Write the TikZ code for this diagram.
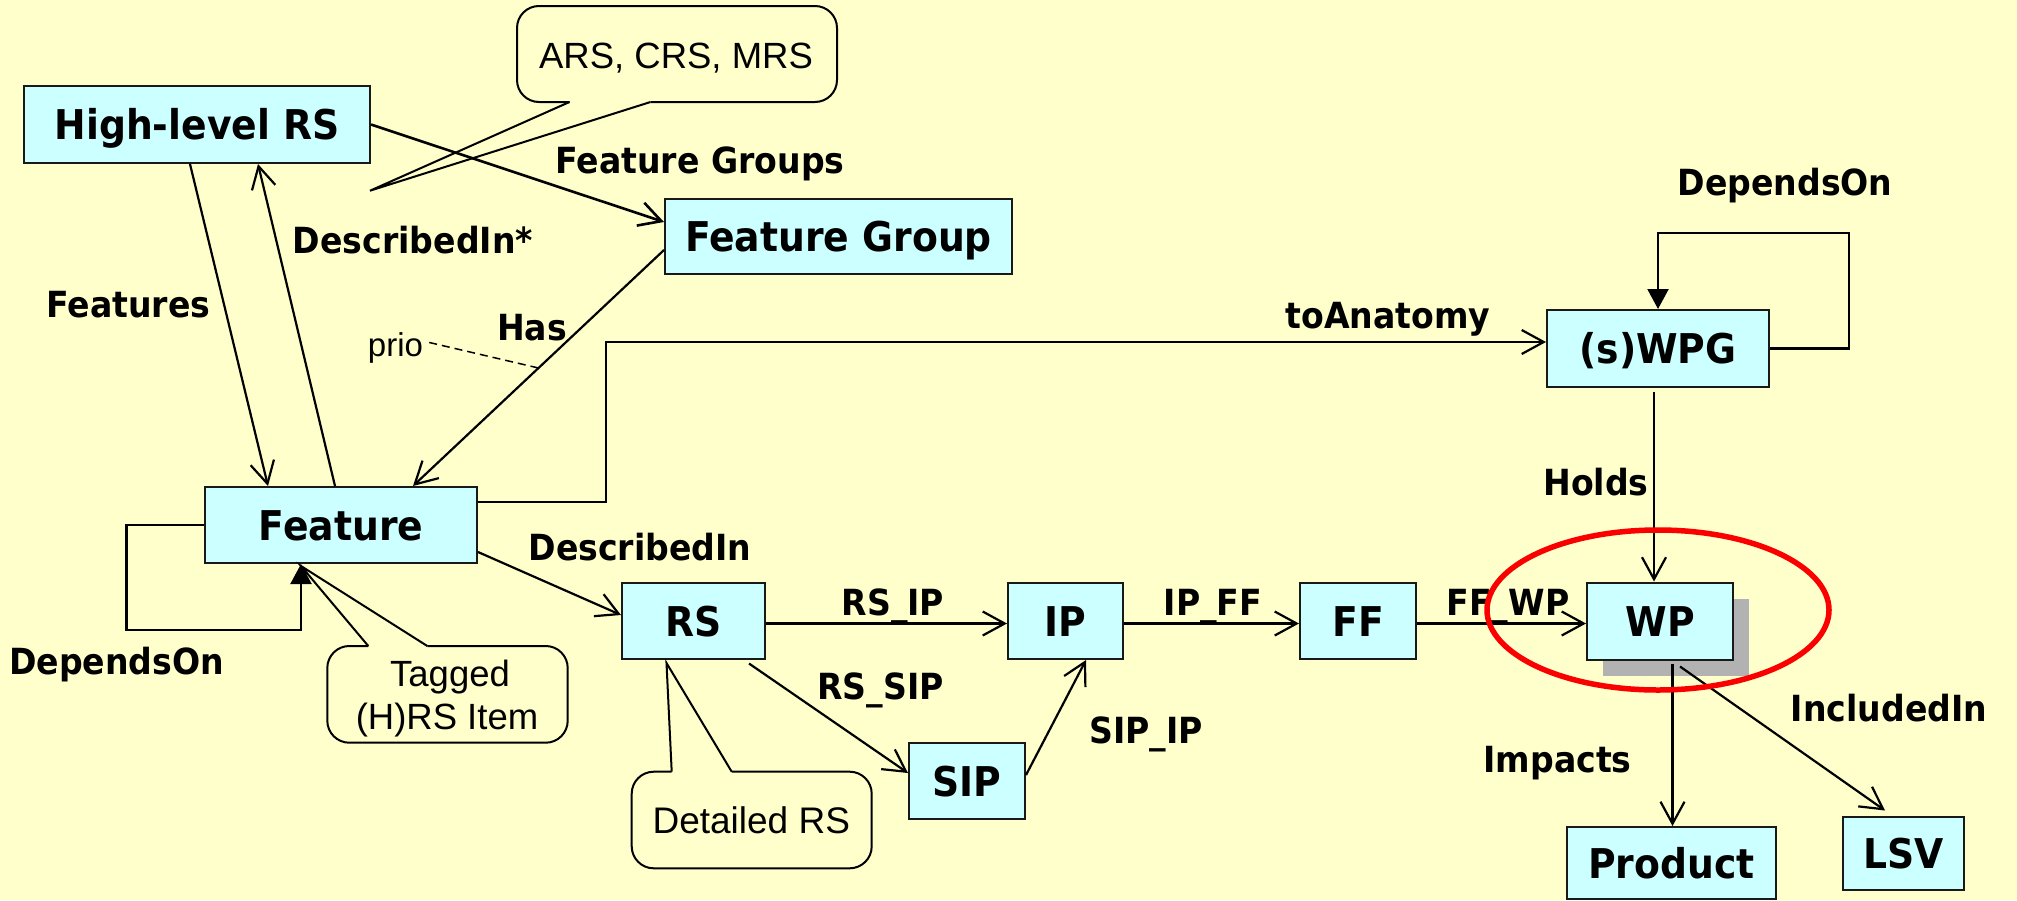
\documentclass[tikz,border=0pt]{standalone}
\usepackage{fontspec}
\setmainfont{Liberation Sans}
\newfontfamily\tahoma[FakeStretch=0.92]{DejaVu Sans}
\usetikzlibrary{arrows.meta,calc,shadows}
\definecolor{paper}{RGB}{255,255,204}
\definecolor{boxfill}{RGB}{204,255,255}
\definecolor{shade}{RGB}{178,178,178}
\definecolor{ring}{RGB}{250,0,0}

\begin{document}
\begin{tikzpicture}[x=1pt,y=-1pt,
  entity/.style={draw=black!90, line width=2pt, fill=boxfill, inner sep=0pt,
    text height=30pt, text depth=0pt,
    font=\tahoma\bfseries\fontsize{41}{48}\selectfont},
  rel/.style={font=\tahoma\bfseries\fontsize{36}{42}\selectfont, anchor=base, inner sep=0pt},
  note/.style={font=\fontsize{36.5}{42}\selectfont, anchor=base, inner sep=0pt},
  link/.style={line width=2.2pt},
  arr/.style={link, -{Straight Barb[length=22pt,width=24pt]}},
  selfarr/.style={link, -{Triangle[length=20pt,width=21pt]}},
  bubble/.style={line width=2pt, rounded corners=22pt},
]
% canvas
\fill[paper] (0,0) rectangle (2017,900);
\useasboundingbox (0,0) rectangle (2017,900);

% entities
\node[entity, minimum width=346pt, minimum height=77pt] (hl) at (197,124.5) {High-level RS};
\node[entity, minimum width=347pt, minimum height=75pt] (fg) at (838.5,236.5) {Feature Group};
\node[entity, minimum width=222pt, minimum height=77pt] (wpg) at (1658,348.5) {(s)WPG};
\node[entity, minimum width=272pt, minimum height=76pt] (feat) at (341,525) {Feature};
\node[entity, minimum width=143pt, minimum height=76pt] (rs) at (693.5,621) {RS};
\node[entity, minimum width=115pt, minimum height=76pt] (ip) at (1065.5,621) {IP};
\node[entity, minimum width=116pt, minimum height=76pt] (ff) at (1358,621) {FF};
\node[entity, minimum width=146pt, minimum height=77pt,
  drop shadow={shadow xshift=16pt, shadow yshift=-16pt, fill=shade, opacity=1, draw=none}]
  (wp) at (1660,621) {WP};
\node[entity, minimum width=116pt, minimum height=76pt] (sip) at (967,781) {SIP};
\node[entity, minimum width=209pt, minimum height=72pt] (prod) at (1671.5,863) {Product};
\node[entity, minimum width=121pt, minimum height=73pt] (lsv) at (1903.5,853) {LSV};

% callout: ARS, CRS, MRS
\node[note] (ars) at (676,68) {ARS, CRS, MRS};
\coordinate (arstip) at (370,190.7);
\draw[bubble] (650.5,102) -- (837,102) -- (837,6) -- (517,6) -- (517,102) -- (569.5,102);
\draw[link, line width=2pt] (569.5,102) -- (arstip) -- (650.5,102);

% callout: Tagged (H)RS Item
\node[note] (tag1) at (450,686) {Tagged};
\node[note] (tag2) at (447,729) {(H)RS Item};
\draw[bubble] (427.3,646) -- (567.7,646) -- (567.7,742.7) -- (327.3,742.7) -- (327.3,646) -- (368.3,646);
\draw[link, line width=2pt] (368.3,646) -- ([xshift=-40pt,yshift=-2pt]feat.south) -- (427.3,646);

% callout: Detailed RS
\node[note, font=\fontsize{37}{42}\selectfont] (det) at (751.3,833.3) {Detailed RS};
\draw[bubble] (731.7,771.7) -- (871.7,771.7) -- (871.7,868.3) -- (631.7,868.3) -- (631.7,771.7) -- (671.7,771.7);
\draw[link, line width=2pt] (671.7,771.7) -- ([xshift=-27pt,yshift=-3pt]rs.south) -- (731.7,771.7);

% relations
\draw[arr, line width=2.6pt] (hl.east) -- ([yshift=14.5pt]fg.west);
\draw[arr] ([xshift=-7pt]hl.south) -- ([xshift=-73pt]feat.north);
\draw[arr] ([xshift=-6pt]feat.north) -- ([xshift=61pt]hl.south);
\draw[arr] ([yshift=-13.5pt]fg.west) -- coordinate[pos=0.5] (hasmid) ([xshift=72pt]feat.north);
\draw[arr] ([yshift=23pt]feat.east) -- ++(128,0) |- ([yshift=6.5pt]wpg.west);
\draw[selfarr] (wpg.east) -- ++(79,0) |- ([yshift=76pt]wpg.north) -- (wpg.north);
\draw[selfarr] (feat.west) -- ++(-77.5,0) |- ([xshift=-40pt,yshift=-66pt]feat.south) -- ([xshift=-40pt]feat.south);
\draw[arr] ([yshift=-27pt]feat.east) -- ([yshift=6pt]rs.west);
\draw[arr] ([yshift=-2.5pt]rs.east) -- ([yshift=-2.5pt]ip.west);
\draw[arr] ([xshift=55.5pt,yshift=-3.5pt]rs.south) -- ([yshift=8pt]sip.west);
\draw[arr] ([yshift=6pt]sip.east) -- ([xshift=20.5pt]ip.south);
\draw[arr] ([yshift=-2.5pt]ip.east) -- ([yshift=-2.5pt]ff.west);
\draw[arr] ([yshift=-2.5pt]ff.east) -- ([yshift=-2.5pt]wp.west);
\draw[arr] ([xshift=-4pt,yshift=-3.5pt]wpg.south) -- ([xshift=-6pt]wp.north);
\draw[arr] ([xshift=12.5pt,yshift=-3pt]wp.south) -- ([xshift=1pt]prod.north);
\draw[arr] ([xshift=20pt,yshift=-6pt]wp.south) -- ([xshift=-18.5pt,yshift=5pt]lsv.north);

% priority note on the Has relation
\node[note, font=\fontsize{33}{40}\selectfont] (prio) at (395.5,356) {prio};
\draw[line width=1.5pt, dash pattern=on 8pt off 5pt] ([xshift=6pt,yshift=5pt]prio.east) -- (hasmid);

% relation labels
\node[rel] (lfeatures) at (128.4,317) {Features};
\node[rel] (ldescstar) at (413,253) {DescribedIn*};
\node[rel] (lgroups) at (700,173) {Feature Groups};
\node[rel] (lhas) at (532,340) {Has};
\node[rel] (lanat) at (1388,328) {toAnatomy};
\node[rel] (ldepwpg) at (1785,195) {DependsOn};
\node[rel] (lholds) at (1596,495) {Holds};
\node[rel] (ldesc) at (640,560) {DescribedIn};
\node[rel] (lrsip) at (893,615) {RS\_IP};
\node[rel] (lrssip) at (880.5,699) {RS\_SIP};
\node[rel] (lsipip) at (1146,743) {SIP\_IP};
\node[rel] (lipff) at (1213,615) {IP\_FF};
\node[rel] (lffwp) at (1508,615) {FF\_WP};
\node[rel] (lincl) at (1889,721) {IncludedIn};
\node[rel] (limp) at (1557.5,772) {Impacts};
\node[rel] (ldepfeat) at (116.5,674) {DependsOn};

% highlight ring around WP
\draw[ring, line width=5.5pt] ([xshift=-2pt,yshift=11pt]wp.center) ellipse [x radius=171pt, y radius=80pt];
\end{tikzpicture}
\end{document}
